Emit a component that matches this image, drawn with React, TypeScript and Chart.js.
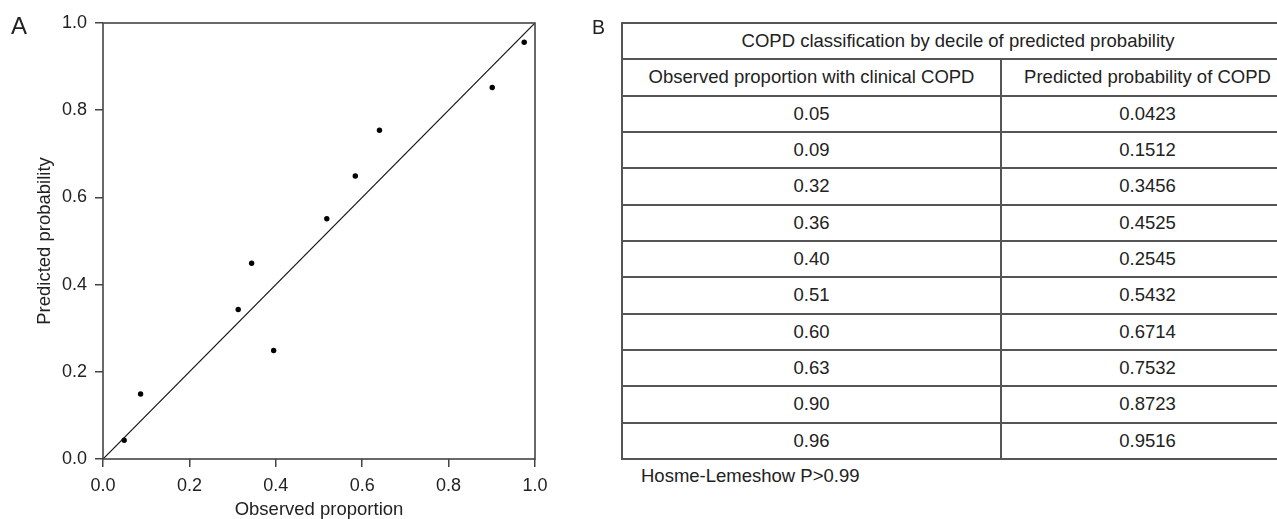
import React, { useEffect, useRef } from "react";
import { Chart, registerables } from "chart.js";

Chart.register(...registerables);

const observed = [0.049, 0.087, 0.313, 0.344, 0.395, 0.518, 0.584, 0.640, 0.901, 0.975];
const predicted = [0.043, 0.149, 0.343, 0.449, 0.249, 0.551, 0.649, 0.754, 0.852, 0.956];
const refLine = [0, 1];

const tableTitle = "COPD classification by decile of predicted probability";
const colHeaders = ["Observed proportion with clinical COPD", "Predicted probability of COPD"];
const tableObserved = ["0.05", "0.09", "0.32", "0.36", "0.40", "0.51", "0.60", "0.63", "0.90", "0.96"];
const tablePredicted = ["0.0423", "0.1512", "0.3456", "0.4525", "0.2545", "0.5432", "0.6714", "0.7532", "0.8723", "0.9516"];
const footnote = "Hosme-Lemeshow P>0.99";

const FONT = "'Liberation Sans', Arial, Helvetica, sans-serif";
const INK = "#222";

const boxPlugin = {
  id: "boxFrame",
  afterDatasetsDraw(chart: any) {
    const { ctx, chartArea } = chart;
    ctx.save();
    ctx.strokeStyle = "#444";
    ctx.lineWidth = 1.6;
    ctx.strokeRect(chartArea.left, chartArea.top, chartArea.right - chartArea.left, chartArea.bottom - chartArea.top);
    ctx.restore();
  },
};

function Scatter() {
  const ref = useRef<HTMLCanvasElement>(null);
  useEffect(() => {
    const chart = new Chart(ref.current!, {
      type: "scatter",
      data: {
        datasets: [
          {
            type: "line",
            data: refLine.map((v) => ({ x: v, y: v })),
            borderColor: "#111",
            borderWidth: 1.2,
            pointRadius: 0,
            fill: false,
          } as any,
          {
            data: observed.map((x, i) => ({ x, y: predicted[i] })),
            backgroundColor: "#000",
            borderColor: "#000",
            pointRadius: 2.7,
            borderWidth: 0,
          },
        ],
      },
      options: {
        animation: false,
        responsive: false,
        maintainAspectRatio: false,
        layout: { padding: { top: 23, right: 65, left: 0, bottom: 0 } },
        plugins: { legend: { display: false }, tooltip: { enabled: false } },
        scales: {
          x: {
            type: "linear",
            min: 0,
            max: 1,
            afterFit: (s: any) => { s.height = 60; },
            ticks: { stepSize: 0.2, color: INK, font: { family: FONT, size: 18 }, padding: 8, callback: (v: any) => Number(v).toFixed(1) },
            grid: { drawOnChartArea: false, drawTicks: true, tickLength: 8, color: "#444", lineWidth: 1.5 },
            border: { display: false },
            title: { display: true, text: "Observed proportion", color: INK, font: { family: FONT, size: 18.5 }, padding: { top: 0, bottom: -2 } },
          },
          y: {
            type: "linear",
            min: 0,
            max: 1,
            afterFit: (s: any) => { s.width = 103; },
            ticks: { stepSize: 0.2, color: INK, font: { family: FONT, size: 18 }, padding: 8, callback: (v: any) => Number(v).toFixed(1) },
            grid: { drawOnChartArea: false, drawTicks: true, tickLength: 8, color: "#444", lineWidth: 1.5 },
            border: { display: false },
            title: { display: true, text: "Predicted probability", color: INK, font: { family: FONT, size: 18.5 }, padding: { top: 34, bottom: 0 } },
          },
        },
      },
      plugins: [boxPlugin],
    });
    return () => chart.destroy();
  }, []);
  return <canvas ref={ref} width={600} height={519} style={{ position: "absolute", left: 0, top: 0, width: 600, height: 519 }} />;
}

export default function App() {
  const cell: React.CSSProperties = {
    border: "2px solid #555",
    textAlign: "center",
    verticalAlign: "middle",
    padding: 0,
    fontSize: 18.5,
    color: INK,
    whiteSpace: "nowrap",
  };
  const rowH = 36.33;
  return (
    <div style={{ position: "absolute", left: 0, top: 0, width: 1277, height: 519, background: "#fff", fontFamily: FONT, overflow: "hidden" }}>
      <Scatter />
      <div style={{ position: "absolute", left: 11, top: 11, fontSize: 24, color: INK, lineHeight: "30px" }}>A</div>
      <div style={{ position: "absolute", left: 592, top: 13, fontSize: 19.5, color: INK, lineHeight: "28px" }}>B</div>
      <table style={{ position: "absolute", left: 621, top: 22, width: 672, borderCollapse: "collapse", tableLayout: "fixed" }}>
        <colgroup>
          <col style={{ width: 379 }} />
          <col style={{ width: 293 }} />
        </colgroup>
        <tbody>
          <tr style={{ height: rowH }}><td colSpan={2} style={cell}>{tableTitle}</td></tr>
          <tr style={{ height: rowH }}><td style={cell}>{colHeaders[0]}</td><td style={cell}>{colHeaders[1]}</td></tr>
          {tableObserved.map((o, i) => (
            <tr key={i} style={{ height: rowH }}><td style={cell}>{o}</td><td style={cell}>{tablePredicted[i]}</td></tr>
          ))}
        </tbody>
      </table>
      <div style={{ position: "absolute", left: 641, top: 465, fontSize: 18.5, color: INK, lineHeight: "22px" }}>{footnote}</div>
    </div>
  );
}
